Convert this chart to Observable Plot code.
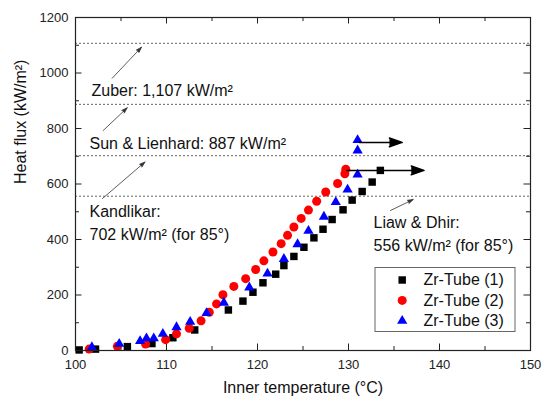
<!DOCTYPE html>
<html><head><meta charset="utf-8">
<script src="https://cdn.jsdelivr.net/npm/d3@7"></script>
<script src="https://cdn.jsdelivr.net/npm/@observablehq/plot@0.6"></script>
<style>
html,body{margin:0;padding:0;background:#fff;}
#chart svg{font-family:"Liberation Sans",Arial,sans-serif;display:block;}
</style></head><body><div id="chart"></div>
<script>
// ---- data ----
const seriesNames = ["Zr-Tube (1)", "Zr-Tube (2)", "Zr-Tube (3)"];
const tube1T = [100.4, 102.2, 105.7, 108.4, 110.7, 113.1, 116.8, 118.4, 119.5, 120.6, 122.0, 122.9, 124.0, 125.1, 126.2, 127.2, 128.2, 129.4, 130.4, 131.5, 132.6, 133.5];
const tube1Q = [2, 5, 14, 25, 46, 74, 146, 178, 210, 244, 275, 306, 339, 372, 406, 437, 472, 507, 542, 573, 607, 649];
const tube2T = [101.5, 104.6, 107.7, 109.9, 111.1, 112.5, 113.8, 114.7, 115.5, 116.2, 117.4, 118.7, 119.8, 120.7, 121.7, 122.6, 123.3, 124.0, 124.8, 125.6, 126.5, 127.5, 128.8, 129.6, 129.7];
const tube2Q = [5, 15, 23, 39, 60, 80, 107, 138, 168, 201, 231, 259, 292, 323, 355, 385, 415, 445, 476, 506, 538, 571, 602, 637, 653];
const tube3T = [101.8, 104.8, 107.1, 107.8, 108.6, 109.6, 111.1, 112.6, 114.4, 116.3, 119.1, 121.1, 122.9, 124.4, 125.6, 127.3, 128.6, 129.9, 131.0, 131.0, 131.0];
const tube3Q = [12, 24, 34, 44, 44, 60, 84, 103, 135, 172, 227, 277, 330, 383, 431, 482, 535, 580, 634, 721, 758];
// CHF not reached arrows (start T, end T, heat flux)
const arrowStartT = [131.2, 129.8];
const arrowEndT = [135.9, 138.3];
const arrowQ = [750, 649];
// predicted CHF limits
const limitNames = ["Zuber", "Sun & Lienhard", "Kandlikar", "Liaw & Dhir"];
const limitValues = [1107, 887, 702, 556];
const limitLabels = ["Zuber: 1,107 kW/m²", "Sun & Lienhard: 887 kW/m²", "Kandlikar:\n702 kW/m² (for 85°)", "Liaw & Dhir:\n556 kW/m² (for 85°)"];
// ticks
const xMajor = [100, 110, 120, 130, 140, 150];
const xMinor = [105, 115, 125, 135, 145];
const yMajor = [0, 200, 400, 600, 800, 1000, 1200];
const yMinor = [100, 300, 500, 700, 900, 1100];

// ---- layout ----
const W = 542, H = 403, mL = 75, mR = 12, mT = 17, mB = 53;
const fw = W - mL - mR, fh = H - mT - mB;
const px2t = px => 100 + (px - mL) / fw * 50;
const py2q = py => (H - mB - py) / fh * 1200;

const rows = (T, Q) => T.map((t, i) => ({t, q: Q[i]}));
const s1 = rows(tube1T, tube1Q), s2 = rows(tube2T, tube2Q), s3 = rows(tube3T, tube3Q);
const arrows = arrowQ.map((q, i) => ({x1: arrowStartT[i], x2: arrowEndT[i], q}));

// annotation layout (pixel positions)
const annPos = [[91, 87], [89, 140], [89, 208.3], [373, 219.3]];
const ann = limitLabels.map((s, i) => ({t: px2t(annPos[i][0]), q: py2q(annPos[i][1]), s}));
const annArrowPx = [[111.7, 77.7, 141, 46.7], [102.7, 130, 126.7, 107.3], [102, 198, 144.5, 161.5], [390, 210, 412.7, 199]];
const annArrows = annArrowPx.map(a => ({x1: px2t(a[0]), y1: py2q(a[1]), x2: px2t(a[2]), y2: py2q(a[3])}));

const colors = ["#000000", "#ff0000", "#0000ff"];
const symbols = ["square", "circle", "triangle"];
const radii = [4.2, 4.5, 3.8];
const legendRows = seriesNames.map((name, i) => ({name, i, t: px2t(401.7), tt: px2t(423), q: py2q(279.5 + i * 20.4)}));

const chart = Plot.plot({
  width: W, height: H,
  marginLeft: mL, marginRight: mR, marginTop: mT, marginBottom: mB,
  x: {domain: [100, 150]},
  y: {domain: [0, 1200]},
  style: {fontFamily: "Liberation Sans, Arial, sans-serif", background: "#fff", color: "#000", overflow: "visible"},
  marks: [
    Plot.ruleY(limitValues, {y: d => d, stroke: "#666", strokeDasharray: "2,2", strokeWidth: 1}),
    Plot.tickX(xMajor, {x: d => d, insetTop: fh - 6.5, stroke: "#222"}),
    Plot.tickX(xMajor, {x: d => d, insetBottom: fh - 6.5, stroke: "#222"}),
    Plot.tickX(xMinor, {x: d => d, insetTop: fh - 4, stroke: "#222"}),
    Plot.tickX(xMinor, {x: d => d, insetBottom: fh - 4, stroke: "#222"}),
    Plot.tickY(yMajor, {y: d => d, insetRight: fw - 6.5, stroke: "#222"}),
    Plot.tickY(yMajor, {y: d => d, insetLeft: fw - 6.5, stroke: "#222"}),
    Plot.tickY(yMinor, {y: d => d, insetRight: fw - 4, stroke: "#222"}),
    Plot.tickY(yMinor, {y: d => d, insetLeft: fw - 4, stroke: "#222"}),
    Plot.axisX({ticks: xMajor, tickSize: 0, tickPadding: 9, fontSize: 13, label: null, tickFormat: d => String(d), fill: "#222"}),
    Plot.axisY({ticks: yMajor, tickSize: 0, tickPadding: 7, fontSize: 13, label: null, tickFormat: d => String(d), fill: "#222"}),
    Plot.text(["Inner temperature (°C)"], {frameAnchor: "bottom", dy: 42, fontSize: 16, fill: "#111"}),
    Plot.text(["Heat flux (kW/m²)"], {frameAnchor: "left", dx: -55, rotate: -90, fontSize: 16, fill: "#111"}),
    // annotations
    Plot.arrow(annArrows, {x1: "x1", y1: "y1", x2: "x2", y2: "y2", stroke: "#333", fill: "#333", strokeWidth: 0.8, headLength: 11, headAngle: 36}),
    Plot.text(ann, {x: "t", y: "q", text: "s", textAnchor: "start", lineAnchor: "top", dy: -8, lineHeight: 1.45, fontSize: 16, fill: "#111"}),
    // data
    Plot.dot(s1, {x: "t", y: "q", symbol: symbols[0], r: radii[0], fill: colors[0], stroke: "none"}),
    Plot.dot(s2, {x: "t", y: "q", symbol: symbols[1], r: radii[1], fill: colors[1], stroke: "none"}),
    Plot.dot(s3, {x: "t", y: "q", symbol: symbols[2], r: radii[2], fill: colors[2], stroke: "none"}),
    Plot.arrow(arrows, {x1: "x1", x2: "x2", y1: "q", y2: "q", stroke: "#000", fill: "#000", strokeWidth: 1.5, headLength: 13.5, headAngle: 38}),
    // legend
    Plot.rect([0], {x1: px2t(375), x2: px2t(515), y1: py2q(267.5), y2: py2q(331.5), fill: "#fff", stroke: "#666", strokeWidth: 1}),
    Plot.dot(legendRows, {x: "t", y: "q", symbol: d => symbols[d.i], r: d => radii[d.i], fill: d => colors[d.i], stroke: "none"}),
    Plot.text(legendRows, {x: "tt", y: "q", text: "name", textAnchor: "start", fontSize: 16, fill: "#111"}),
    Plot.frame({stroke: "#222", strokeWidth: 1.2})
  ],
  symbol: {type: "identity"},
  r: {type: "identity"}
});
document.getElementById("chart").appendChild(chart);
</script>
</body></html>
